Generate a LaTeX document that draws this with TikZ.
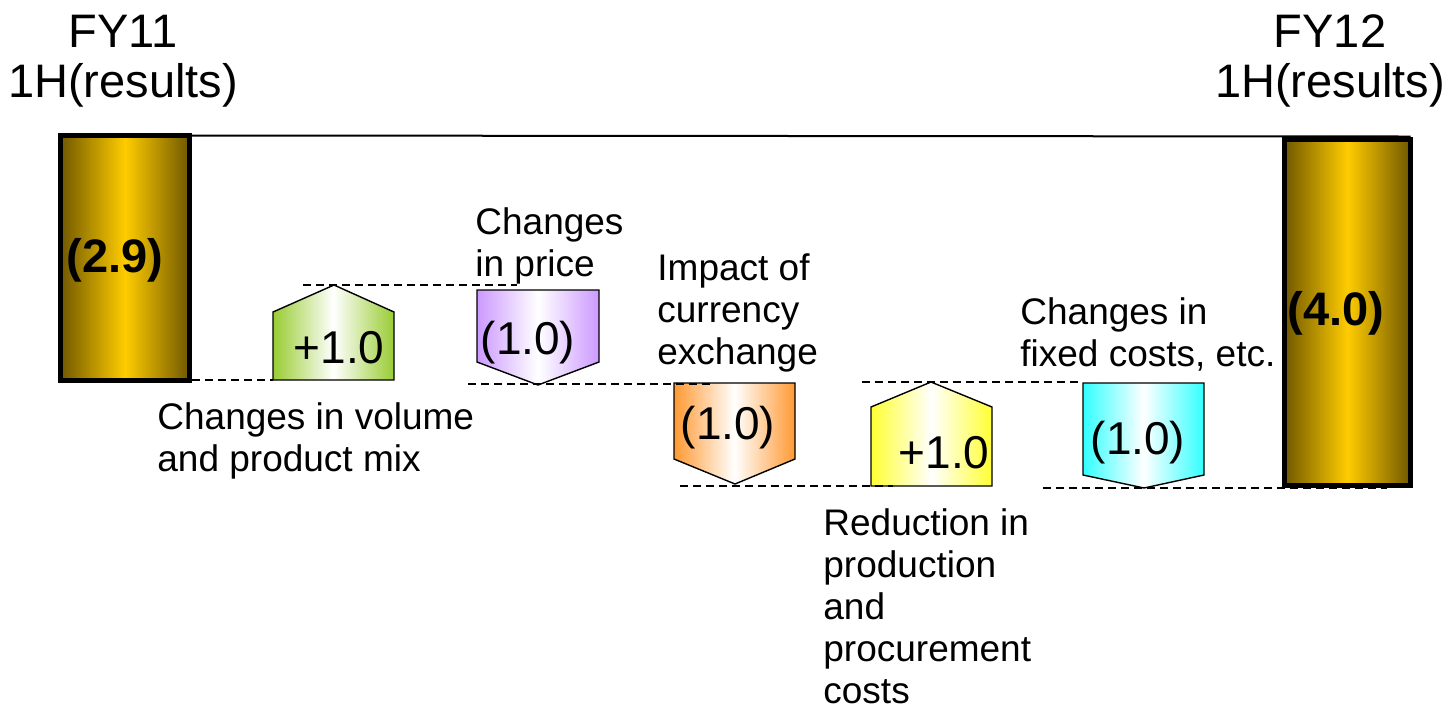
\documentclass[tikz,border=0pt]{standalone}
\usepackage{fontspec}
\setmainfont{Liberation Sans}
\usetikzlibrary{calc}

\definecolor{golddark}{RGB}{112,88,0}
\definecolor{goldmid}{RGB}{255,204,0}
\definecolor{volgreen}{RGB}{153,204,51}
\definecolor{pricepurple}{RGB}{204,153,255}
\definecolor{fxorange}{RGB}{255,153,51}
\definecolor{costyellow}{RGB}{255,255,51}
\definecolor{fixedcyan}{RGB}{51,255,255}

\tikzset{
  bar/.style={draw=black, line width=2.5pt, left color=golddark, right color=golddark, middle color=goldmid},
  chevron/.style={draw=black, line width=0.7pt, line join=miter, left color=#1, right color=#1, middle color=white},
  level/.style={dash pattern=on 4pt off 2.5pt, line width=0.6pt},
  title/.style={font=\fontsize{23.5}{25}\selectfont, align=center, inner sep=0pt},
  lbl/.style={font=\fontsize{18.5}{21}\selectfont, align=left, inner sep=0pt},
  num/.style={font=\fontsize{23}{26}\selectfont, inner sep=0pt},
  total/.style={font=\fontsize{23.5}{26}\selectfont\bfseries, inner sep=0pt}
}

\begin{document}
\begin{tikzpicture}[x=0.5pt, y=-0.5pt]
    \useasboundingbox (0,0) rectangle (1450,714);

    % start and end bars
    \coordinate (A1) at (60.5,135.5);
    \coordinate (A2) at (189.5,380.5);
    \coordinate (B1) at (1284.5,139.5);
    \coordinate (B2) at (1410.5,485.5);

    \draw[line width=1pt] (A1 -| A2) -- ($ (B1 -| B2) + (0,-3) $);
    \path[bar] (A1) rectangle (A2);
    \path[bar] (B1) rectangle (B2);

    \node[total, anchor=base] (fy11val) at (115,272) {(2.9)};
    \node[total, anchor=base] (fy12val) at (1336,325) {(4.0)};

    % last baseline of each text block
    \node[title, anchor=base] (fy11) at (123,97) {FY11\\1H(results)};
    \node[title, anchor=base] (fy12) at (1330,97) {FY12\\1H(results)};

    % volume and product mix
    \draw[chevron=volgreen]
      (273,380) -- (273,312) -- (334,285) -- (394,312) -- (394,380) -- cycle;
    \node[num, anchor=base] (volnum) at (339,363) {+1.0};
    \node[lbl, anchor=base west] (voltxt) at (157,471) {Changes in volume\\and product mix};

    % price
    \draw[chevron=pricepurple]
      (477,290) -- (599,290) -- (599,362) -- (538,385) -- (477,362) -- cycle;
    \node[num, anchor=base] (pricenum) at (528,354) {(1.0)};
    \node[lbl, anchor=base west] (pricetxt) at (475,276) {Changes\\in price};

    % currency
    \draw[chevron=fxorange]
      (674,383) -- (795,383) -- (795,459) -- (735,484) -- (674,459) -- cycle;
    \node[num, anchor=base] (fxnum) at (728,439) {(1.0)};
    \node[lbl, anchor=base west] (fxtxt) at (657,364) {Impact of\\currency\\exchange};

    % production and procurement
    \draw[chevron=costyellow]
      (871,486) -- (871,407) -- (931,382) -- (992,407) -- (992,486) -- cycle;
    \node[num, anchor=base] (costnum) at (944,468) {+1.0};
    \node[lbl, anchor=base west] (costtxt) at (823,703) {Reduction in\\production\\and\\procurement\\costs};

    % fixed costs
    \draw[chevron=fixedcyan]
      (1083,383) -- (1204,383) -- (1204,475) -- (1144,488) -- (1083,475) -- cycle;
    \node[num, anchor=base] (fixnum) at (1138,454) {(1.0)};
    \node[lbl, anchor=base west] (fixtxt) at (1020,366) {Changes in\\fixed costs, etc.};

    % levels
    \draw[level] (192,380) -- (273,380);
    \draw[level] (303,285) -- (517,285);
    \draw[level] (468,384) -- (712,384);
    \draw[level] (680,486) -- (893,486);
    \draw[level] (862,382) -- (1080,382);
    \draw[level] (1043,488) -- (1387,488);

\end{tikzpicture}
\end{document}
